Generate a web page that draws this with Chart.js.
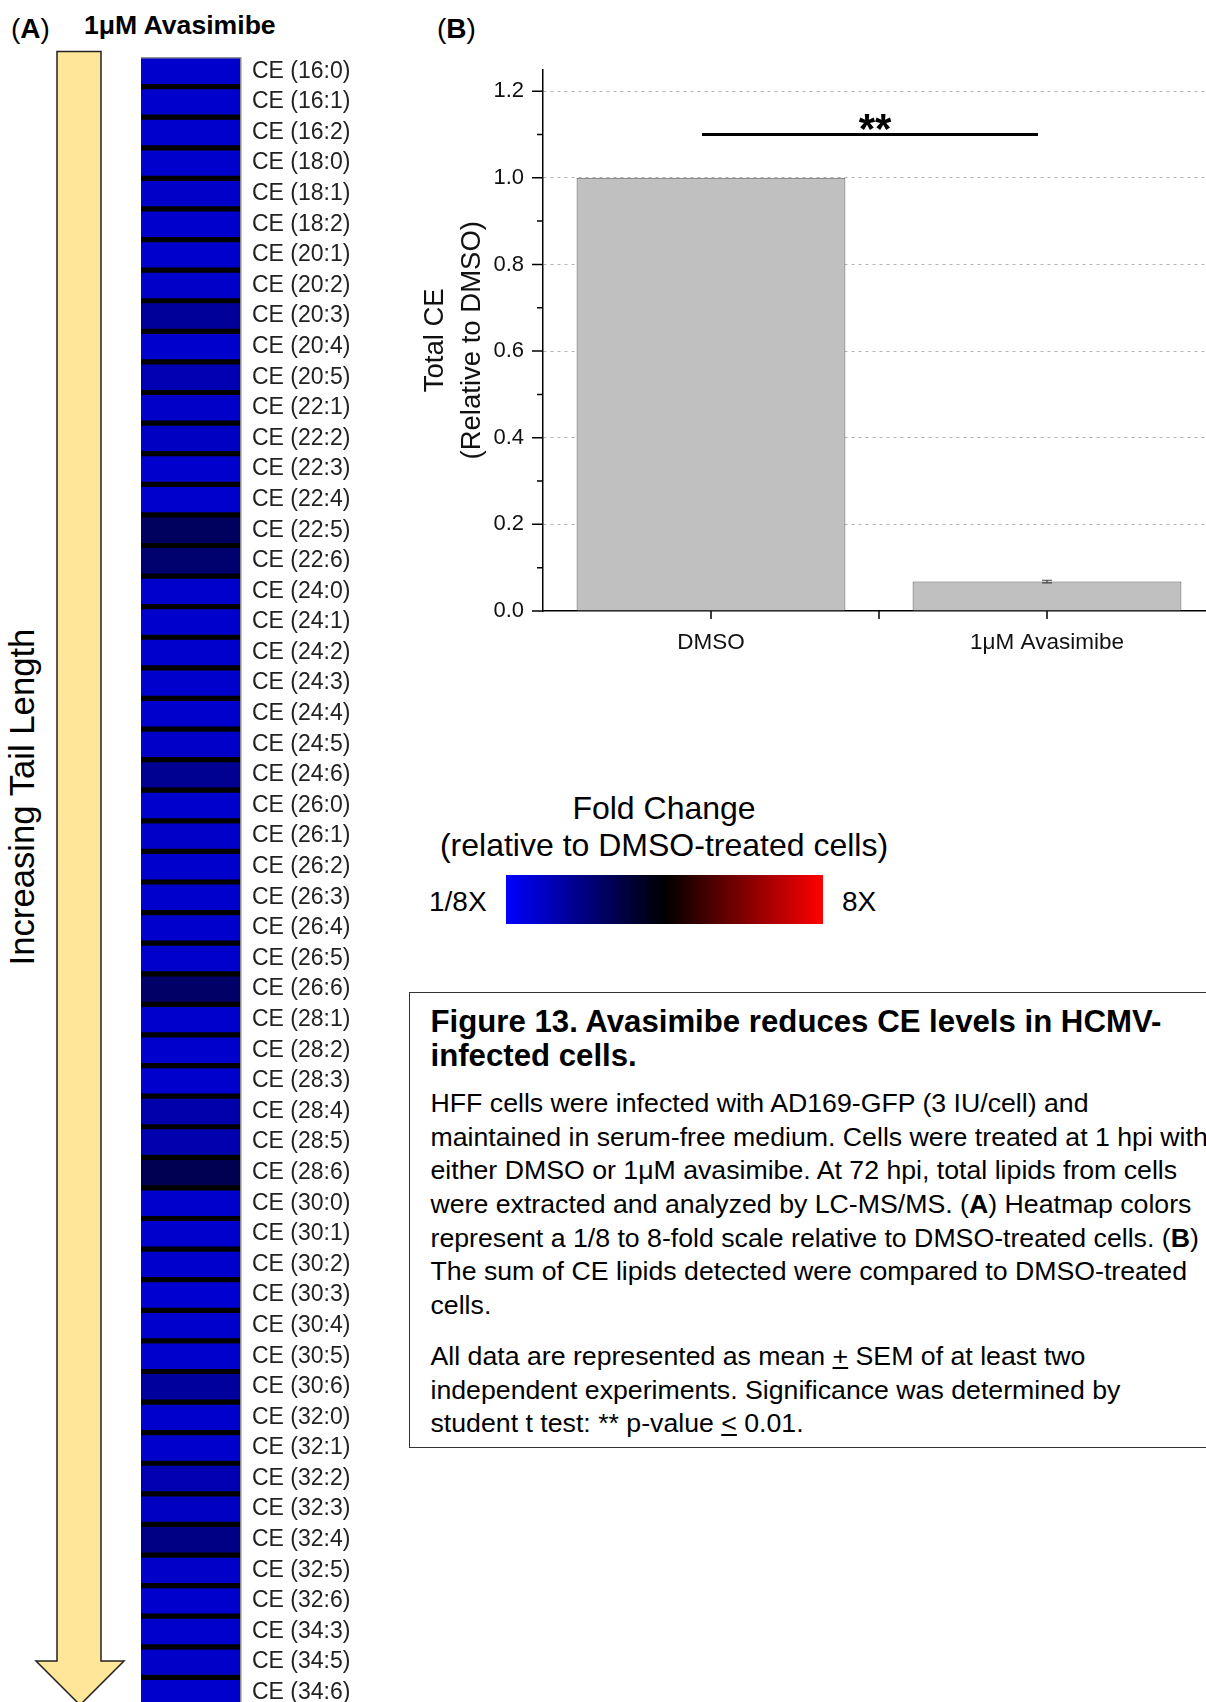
<!DOCTYPE html>
<html>
<head>
<meta charset="utf-8">
<script src="https://cdn.jsdelivr.net/npm/chart.js@4.4.1/dist/chart.umd.min.js"></script>
<style>
  html, body { margin: 0; padding: 0; width: 1206px; height: 1702px; overflow: hidden; background: #fff; }
  body { position: relative; font-family: "Liberation Sans", Arial, sans-serif; color: #000; }
  .t { position: absolute; white-space: nowrap; line-height: 1; }
  canvas { position: absolute; }
  #cap { position: absolute; left: 409px; top: 992px; width: 840px; height: 456px; box-sizing: border-box;
         border: 1.5px solid #333; padding: 12.3px 0 0 20.5px; white-space: nowrap; }
  #cap .head { font-weight: bold; font-size: 31.2px; line-height: 33.6px; }
  #cap p { margin: 0; font-size: 26.7px; line-height: 33.65px; }
</style>
</head>
<body>

<div class="t" style="left:11px; top:15px; font-size:28px;">(<b>A</b>)</div>
<div class="t" style="left:84px; top:12px; font-size:26.6px; font-weight:bold;">1μM Avasimibe</div>
<div class="t" style="left:437px; top:15px; font-size:28px;">(<b>B</b>)</div>

<svg style="position:absolute; left:0; top:0;" width="140" height="1702">
  <polygon points="57,51.5 101,51.5 101,1661 124,1661 80,1705 36,1661 57,1661"
           fill="#ffe699" stroke="#222" stroke-width="1.5"/>
</svg>
<div class="t" style="left:21.5px; top:797px; font-size:34.7px; transform:translate(-50%,-50%) rotate(-90deg);">Increasing Tail Length</div>

<canvas id="heat" width="240" height="1712" style="left:141px; top:26px;"></canvas>
<canvas id="bars" width="845" height="640" style="left:380px; top:40px;"></canvas>

<div class="t" style="left:664px; top:792px; font-size:32px; transform:translateX(-50%);">Fold Change</div>
<div class="t" style="left:664px; top:829px; font-size:32px; transform:translateX(-50%);">(relative to DMSO-treated cells)</div>
<div style="position:absolute; left:506px; top:875px; width:317px; height:49px; background:linear-gradient(to right,#0000ff,#000000,#ff0000);"></div>
<div class="t" style="left:429px; top:888px; font-size:28px;">1/8X</div>
<div class="t" style="left:842px; top:888px; font-size:28px;">8X</div>

<div id="cap">
  <div class="head">Figure 13. Avasimibe reduces CE levels in HCMV-<br>infected cells.</div>
  <p style="margin-top:14.6px;">HFF cells were infected with AD169-GFP (3 IU/cell) and<br>
  maintained in serum-free medium. Cells were treated at 1 hpi with<br>
  either DMSO or 1μM avasimibe. At 72 hpi, total lipids from cells<br>
  were extracted and analyzed by LC-MS/MS. (<b>A</b>) Heatmap colors<br>
  represent a 1/8 to 8-fold scale relative to DMSO-treated cells. (<b>B</b>)<br>
  The sum of CE lipids detected were compared to DMSO-treated<br>
  cells.</p>
  <p style="margin-top:17.45px;">All data are represented as mean <u>+</u> SEM of at least two<br>
  independent experiments. Significance was determined by<br>
  student t test: ** p-value <u>&lt;</u> 0.01.</p>
</div>

<script>
// (A) heatmap rows, top to bottom, and their log2 fold change vs DMSO
const lipidLabels = [
  'CE (16:0)', 'CE (16:1)', 'CE (16:2)', 'CE (18:0)', 'CE (18:1)', 'CE (18:2)',
  'CE (20:1)', 'CE (20:2)', 'CE (20:3)', 'CE (20:4)', 'CE (20:5)',
  'CE (22:1)', 'CE (22:2)', 'CE (22:3)', 'CE (22:4)', 'CE (22:5)', 'CE (22:6)',
  'CE (24:0)', 'CE (24:1)', 'CE (24:2)', 'CE (24:3)', 'CE (24:4)', 'CE (24:5)', 'CE (24:6)',
  'CE (26:0)', 'CE (26:1)', 'CE (26:2)', 'CE (26:3)', 'CE (26:4)', 'CE (26:5)', 'CE (26:6)',
  'CE (28:1)', 'CE (28:2)', 'CE (28:3)', 'CE (28:4)', 'CE (28:5)', 'CE (28:6)',
  'CE (30:0)', 'CE (30:1)', 'CE (30:2)', 'CE (30:3)', 'CE (30:4)', 'CE (30:5)', 'CE (30:6)',
  'CE (32:0)', 'CE (32:1)', 'CE (32:2)', 'CE (32:3)', 'CE (32:4)', 'CE (32:5)', 'CE (32:6)',
  'CE (34:3)', 'CE (34:5)', 'CE (34:6)'
];
const log2Fold = [
  -2.4, -2.4, -2.4, -2.4, -2.35, -2.4,
  -2.4, -2.35, -1.8, -2.4, -2.1,
  -2.35, -2.3, -2.4, -2.4, -1.1, -1.3,
  -2.4, -2.4, -2.4, -2.4, -2.4, -2.35, -1.7,
  -2.4, -2.35, -2.4, -2.4, -2.4, -2.4, -1.2,
  -2.4, -2.4, -2.4, -2.0, -2.05, -0.95,
  -2.4, -2.4, -2.4, -2.45, -2.4, -2.4, -1.85,
  -2.4, -2.4, -2.1, -2.3, -1.55, -2.35, -2.4,
  -2.4, -2.35, -2.4
];
const foldLimit = 3; // 1/8X .. 8X

// (B) total CE relative to DMSO
const groups = ['DMSO', '1μM Avasimibe'];
const totalCE = [1.0, 0.068];
const totalCEerr = [0, 0.003];
const yTicks = [0, 0.1, 0.2, 0.3, 0.4, 0.5, 0.6, 0.7, 0.8, 0.9, 1.0, 1.1, 1.2];
const sigLevel = 1.10;
const sigLabel = '**';

const FONT = 'Liberation Sans';
Chart.defaults.font.family = FONT;

function foldColor(v) {
  const t = Math.max(-1, Math.min(1, v / foldLimit));
  if (t < 0) return `rgb(0,0,${Math.round(-t * 255)})`;
  return `rgb(${Math.round(t * 255)},0,0)`;
}

function isMajor(v) {
  return Math.round(v * 10) % 2 === 0;
}

// black gaps behind the cells, grey frame round the column
const heatBg = {
  id: 'heatBg',
  beforeDatasetsDraw(chart) {
    const { ctx, chartArea: a } = chart;
    const first = chart.getDatasetMeta(0).data[0];
    const top = first.y - first.height / 2;
    ctx.save();
    ctx.fillStyle = '#000';
    ctx.fillRect(a.left, top, a.right - a.left, a.bottom - top);
    ctx.strokeStyle = '#8a8a8a';
    ctx.lineWidth = 1.5;
    ctx.strokeRect(a.left - 0.75, top - 0.75, a.right - a.left + 1.5, a.bottom - top + 20);
    ctx.restore();
  }
};

new Chart(document.getElementById('heat'), {
  type: 'bar',
  data: {
    labels: lipidLabels,
    datasets: [{
      data: lipidLabels.map(() => 1),
      backgroundColor: log2Fold.map(foldColor),
      barPercentage: 1,
      categoryPercentage: 0.83
    }]
  },
  options: {
    indexAxis: 'y',
    responsive: false,
    animation: false,
    events: [],
    layout: { padding: { top: 30, bottom: 30 } },
    plugins: { legend: { display: false }, tooltip: { enabled: false } },
    scales: {
      x: { display: false, min: 0, max: 1 },
      y: {
        position: 'right',
        grid: { display: true, drawOnChartArea: false, drawTicks: true, tickLength: 12, tickColor: 'transparent' },
        border: { display: false },
        ticks: { padding: 0, autoSkip: false, color: '#222', font: { size: 23 } },
        afterFit(s) { s.width = 141; }
      }
    }
  },
  plugins: [heatBg]
});

// axis ticks, error bar and significance bracket for (B)
const barExtras = {
  id: 'barExtras',
  afterDraw(chart) {
    const { ctx, chartArea: a, scales: { x, y } } = chart;
    ctx.save();
    ctx.strokeStyle = '#000';
    ctx.lineWidth = 1.5;
    ctx.beginPath();
    yTicks.forEach(v => {
      const py = y.getPixelForValue(v);
      const len = isMajor(v) ? 11 : 6;
      ctx.moveTo(a.left - len, py);
      ctx.lineTo(a.left, py);
    });
    const p0 = x.getPixelForValue(0);
    const p1 = x.getPixelForValue(1);
    [p0, (p0 + p1) / 2, p1].forEach(px => {
      ctx.moveTo(px, a.bottom);
      ctx.lineTo(px, a.bottom + 8);
    });
    ctx.stroke();

    const meta = chart.getDatasetMeta(0);
    ctx.strokeStyle = '#444';
    ctx.lineWidth = 1.2;
    totalCE.forEach((v, i) => {
      const e = totalCEerr[i];
      if (!e) return;
      const px = meta.data[i].x;
      const yt = y.getPixelForValue(v + e);
      const yb = y.getPixelForValue(v - e);
      ctx.beginPath();
      ctx.moveTo(px, yt); ctx.lineTo(px, yb);
      ctx.moveTo(px - 5, yt); ctx.lineTo(px + 5, yt);
      ctx.moveTo(px - 5, yb); ctx.lineTo(px + 5, yb);
      ctx.stroke();
    });

    const sy = y.getPixelForValue(sigLevel);
    const sx0 = p0 - 9;
    const sx1 = p1 - 9;
    ctx.strokeStyle = '#000';
    ctx.lineWidth = 3;
    ctx.beginPath();
    ctx.moveTo(sx0, sy);
    ctx.lineTo(sx1, sy);
    ctx.stroke();
    ctx.fillStyle = '#000';
    ctx.font = `bold 42px "${FONT}"`;
    ctx.textAlign = 'center';
    ctx.textBaseline = 'alphabetic';
    ctx.fillText(sigLabel, (sx0 + sx1) / 2 + 5, sy + 8.5);
    ctx.restore();
  }
};

new Chart(document.getElementById('bars'), {
  type: 'bar',
  data: {
    labels: groups,
    datasets: [{
      data: totalCE,
      backgroundColor: '#c0c0c0',
      borderColor: '#555',
      borderWidth: 1,
      barPercentage: 0.8,
      categoryPercentage: 1
    }]
  },
  options: {
    responsive: false,
    animation: false,
    events: [],
    layout: { padding: { top: 29.5, right: 10, bottom: 9, left: 0 } },
    plugins: { legend: { display: false }, tooltip: { enabled: false } },
    scales: {
      x: {
        grid: { display: false },
        border: { display: true, color: '#000', width: 1.5 },
        ticks: { color: '#111', padding: 10, font: { size: 22.5 } },
        afterFit(s) { s.height = 60; }
      },
      y: {
        min: 0,
        max: 1.25,
        afterBuildTicks(s) { s.ticks = yTicks.map(v => ({ value: v })); },
        grid: {
          drawOnChartArea: true,
          color: c => (c.tick && c.tick.value > 0 && isMajor(c.tick.value)) ? '#b4b4b4' : 'transparent',
          lineWidth: 1,
          drawTicks: true,
          tickLength: 19,
          tickColor: 'transparent'
        },
        border: { display: true, color: '#000', width: 1.5, dash: [3, 4] },
        ticks: {
          padding: 0,
          color: '#111',
          font: { size: 22 },
          callback: v => isMajor(v) ? v.toFixed(1) : ''
        },
        title: {
          display: true,
          text: ['Total CE', '(Relative to DMSO)'],
          color: '#111',
          font: { size: 27.5, lineHeight: 1.35 },
          padding: { top: 36.5, bottom: 0 }
        },
        afterFit(s) { s.width = 163; }
      }
    }
  },
  plugins: [barExtras]
});
</script>
</body>
</html>
